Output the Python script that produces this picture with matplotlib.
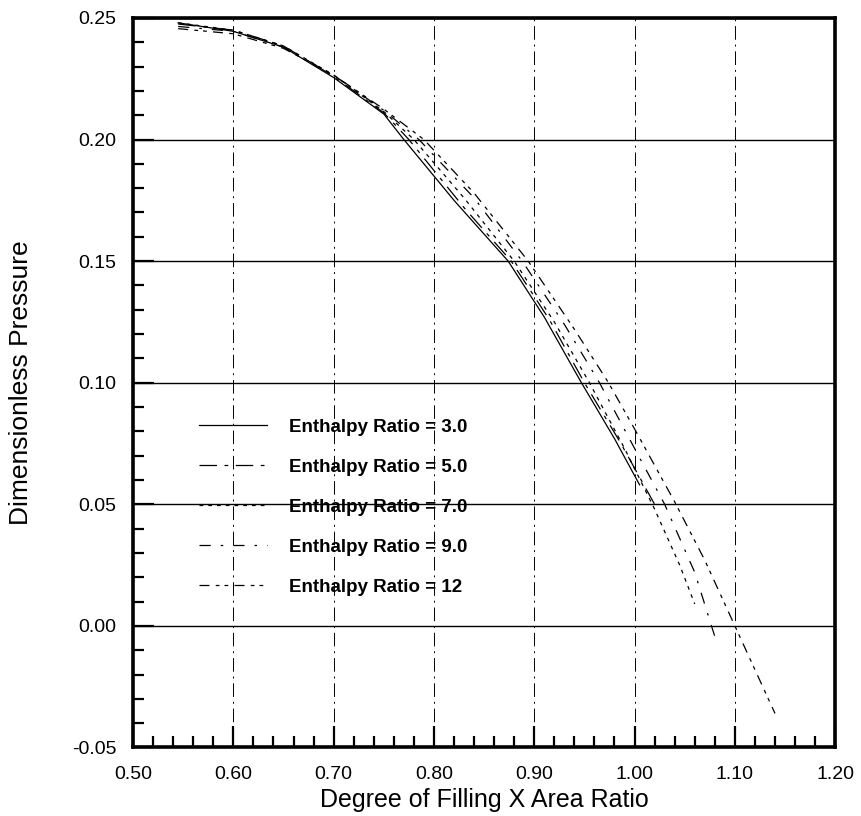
import matplotlib
matplotlib.use("Agg")
import matplotlib.pyplot as plt
from matplotlib.ticker import MultipleLocator, FormatStrFormatter

plt.rcParams['font.family'] = ['Liberation Sans', 'DejaVu Sans']

# curves
x_3 = [0.545, 0.60, 0.65, 0.70, 0.75, 0.77, 0.82, 0.874, 0.91, 0.947, 0.98, 1.005]
y_3 = [0.248, 0.2445, 0.238, 0.2255, 0.2105, 0.200, 0.175, 0.150, 0.127, 0.100, 0.077, 0.058]

x_5 = [0.545, 0.60, 0.65, 0.70, 0.75, 0.775, 0.83, 0.877, 0.915, 0.95, 0.985, 1.02]
y_5 = [0.2475, 0.245, 0.2385, 0.226, 0.211, 0.200, 0.172, 0.150, 0.126, 0.100, 0.076, 0.050]

x_7 = [0.545, 0.60, 0.65, 0.70, 0.75, 0.78, 0.83, 0.88, 0.92, 0.955, 0.99, 1.02, 1.045, 1.06]
y_7 = [0.248, 0.245, 0.2385, 0.2265, 0.2115, 0.200, 0.176, 0.150, 0.125, 0.100, 0.073, 0.048, 0.025, 0.009]

x_9 = [0.545, 0.60, 0.65, 0.70, 0.75, 0.785, 0.84, 0.888, 0.93, 0.965, 1.00, 1.03, 1.06, 1.082]
y_9 = [0.2465, 0.2445, 0.238, 0.2265, 0.212, 0.200, 0.176, 0.150, 0.124, 0.100, 0.073, 0.050, 0.022, -0.007]

x_12 = [0.545, 0.60, 0.65, 0.70, 0.75, 0.79, 0.84, 0.894, 0.94, 0.974, 1.00, 1.04, 1.07, 1.10, 1.12, 1.14]
y_12 = [0.2456, 0.2435, 0.2375, 0.2265, 0.2125, 0.200, 0.178, 0.150, 0.122, 0.100, 0.081, 0.051, 0.027, 0.000, -0.018, -0.036]

labels = ["Enthalpy Ratio = 3.0", "Enthalpy Ratio = 5.0", "Enthalpy Ratio = 7.0",
          "Enthalpy Ratio = 9.0", "Enthalpy Ratio = 12"]

fig = plt.figure(figsize=(8.61, 8.16), dpi=100)
ax = fig.add_axes([0.1545, 0.084, 0.8155, 0.894])

ax.plot(x_3, y_3, color='k', lw=0.9, ls='-', label=labels[0])
ax.plot(x_5, y_5, color='k', lw=0.9, ls=(0, (14, 6, 3, 6)), label=labels[1])
ax.plot(x_7, y_7, color='k', lw=0.9, ls=(0, (3, 4)), label=labels[2])
ax.plot(x_9, y_9, color='k', lw=0.9, ls=(0, (9, 8, 2, 8)), label=labels[3])
ax.plot(x_12, y_12, color='k', lw=0.9, ls=(0, (8, 5, 3, 4, 3, 5)), label=labels[4])

ax.set_xlim(0.50, 1.20)
ax.set_ylim(-0.05, 0.25)
ax.xaxis.set_major_locator(MultipleLocator(0.10))
ax.xaxis.set_minor_locator(MultipleLocator(0.02))
ax.yaxis.set_major_locator(MultipleLocator(0.05))
ax.yaxis.set_minor_locator(MultipleLocator(0.01))
ax.xaxis.set_major_formatter(FormatStrFormatter('%.2f'))
ax.yaxis.set_major_formatter(FormatStrFormatter('%.2f'))

ax.tick_params(which='both', direction='in', top=False, right=False, width=1.6, labelsize=14)
ax.tick_params(which='major', length=15)
ax.tick_params(which='minor', length=8)
ax.tick_params(axis='x', which='major', pad=13)
ax.tick_params(axis='y', which='major', pad=12)

for s in ax.spines.values():
    s.set_linewidth(2.6)

ax.yaxis.grid(True, color='k', lw=1.0, ls='-')
ax.xaxis.grid(True, color='k', lw=0.7, ls=(0, (14, 5, 2, 5)))

ax.set_xlabel("Degree of Filling X Area Ratio", fontsize=18, labelpad=4)
ax.set_ylabel("Dimensionless Pressure", fontsize=19, labelpad=28)

leg = ax.legend(loc='upper left', bbox_to_anchor=(0.07, 0.474), frameon=False,
                handlelength=3.6, handletextpad=1.2, labelspacing=1.22,
                prop={'size': 13.5, 'weight': 'bold'})

fig.savefig("out.png", dpi=100)
